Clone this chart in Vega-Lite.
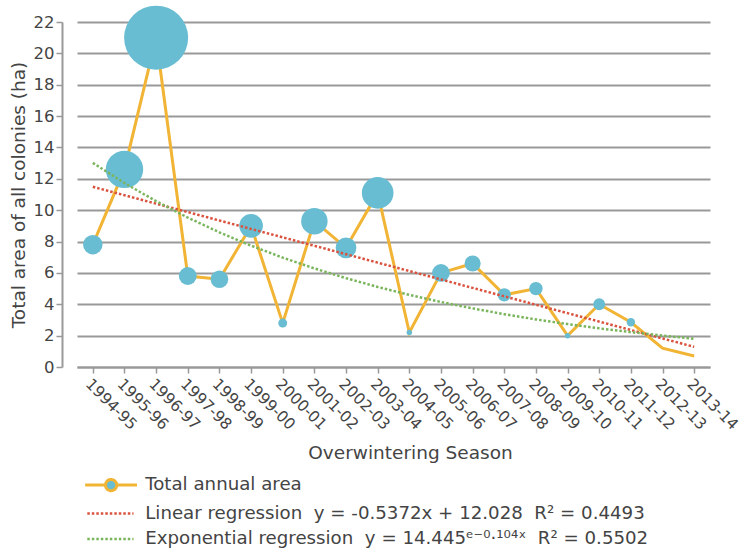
{
  "$schema": "https://vega.github.io/schema/vega-lite/v6.json",
  "width": 650,
  "height": 345,
  "autosize": {"type": "none"},
  "padding": {"left": 62, "top": 22, "right": 40, "bottom": 185},
  "background": "white",
  "config": {
    "font": "DejaVu Sans",
    "view": {"stroke": null},
    "axis": {"labelColor": "#444", "titleColor": "#444", "titleFontWeight": "normal", "domainColor": "#999", "tickColor": "#999", "domainWidth": 2, "tickWidth": 1.5}
  },
  "datasets": {
    "area": [
      {"season": "1994-95", "series": "Total annual area", "value": 7.8, "weight": 3.8},
      {"season": "1995-96", "series": "Total annual area", "value": 12.6, "weight": 14},
      {"season": "1996-97", "series": "Total annual area", "value": 21.0, "weight": 41},
      {"season": "1997-98", "series": "Total annual area", "value": 5.8, "weight": 3.2},
      {"season": "1998-99", "series": "Total annual area", "value": 5.6, "weight": 3.1},
      {"season": "1999-00", "series": "Total annual area", "value": 9.0, "weight": 5.6},
      {"season": "2000-01", "series": "Total annual area", "value": 2.8, "weight": 0.8},
      {"season": "2001-02", "series": "Total annual area", "value": 9.3, "weight": 7},
      {"season": "2002-03", "series": "Total annual area", "value": 7.6, "weight": 4.3},
      {"season": "2003-04", "series": "Total annual area", "value": 11.1, "weight": 10},
      {"season": "2004-05", "series": "Total annual area", "value": 2.2, "weight": 0.3},
      {"season": "2005-06", "series": "Total annual area", "value": 6.0, "weight": 3.15},
      {"season": "2006-07", "series": "Total annual area", "value": 6.6, "weight": 2.6},
      {"season": "2007-08", "series": "Total annual area", "value": 4.6, "weight": 1.8},
      {"season": "2008-09", "series": "Total annual area", "value": 5.0, "weight": 1.8},
      {"season": "2009-10", "series": "Total annual area", "value": 2.0, "weight": 0.3},
      {"season": "2010-11", "series": "Total annual area", "value": 4.0, "weight": 1.4},
      {"season": "2011-12", "series": "Total annual area", "value": 2.85, "weight": 0.7},
      {"season": "2012-13", "series": "Total annual area", "value": 1.2, "weight": 0},
      {"season": "2013-14", "series": "Total annual area", "value": 0.7, "weight": 0}
    ],
    "trend": [
      {"season": "1994-95", "series": "Linear regression", "value": 11.491},
      {"season": "1995-96", "series": "Linear regression", "value": 10.954},
      {"season": "1996-97", "series": "Linear regression", "value": 10.416},
      {"season": "1997-98", "series": "Linear regression", "value": 9.879},
      {"season": "1998-99", "series": "Linear regression", "value": 9.342},
      {"season": "1999-00", "series": "Linear regression", "value": 8.805},
      {"season": "2000-01", "series": "Linear regression", "value": 8.268},
      {"season": "2001-02", "series": "Linear regression", "value": 7.730},
      {"season": "2002-03", "series": "Linear regression", "value": 7.193},
      {"season": "2003-04", "series": "Linear regression", "value": 6.656},
      {"season": "2004-05", "series": "Linear regression", "value": 6.119},
      {"season": "2005-06", "series": "Linear regression", "value": 5.582},
      {"season": "2006-07", "series": "Linear regression", "value": 5.044},
      {"season": "2007-08", "series": "Linear regression", "value": 4.507},
      {"season": "2008-09", "series": "Linear regression", "value": 3.970},
      {"season": "2009-10", "series": "Linear regression", "value": 3.433},
      {"season": "2010-11", "series": "Linear regression", "value": 2.896},
      {"season": "2011-12", "series": "Linear regression", "value": 2.358},
      {"season": "2012-13", "series": "Linear regression", "value": 1.821},
      {"season": "2013-14", "series": "Linear regression", "value": 1.284},
      {"season": "1994-95", "series": "Exponential regression", "value": 13.018},
      {"season": "1995-96", "series": "Exponential regression", "value": 11.732},
      {"season": "1996-97", "series": "Exponential regression", "value": 10.573},
      {"season": "1997-98", "series": "Exponential regression", "value": 9.529},
      {"season": "1998-99", "series": "Exponential regression", "value": 8.588},
      {"season": "1999-00", "series": "Exponential regression", "value": 7.739},
      {"season": "2000-01", "series": "Exponential regression", "value": 6.975},
      {"season": "2001-02", "series": "Exponential regression", "value": 6.286},
      {"season": "2002-03", "series": "Exponential regression", "value": 5.665},
      {"season": "2003-04", "series": "Exponential regression", "value": 5.105},
      {"season": "2004-05", "series": "Exponential regression", "value": 4.601},
      {"season": "2005-06", "series": "Exponential regression", "value": 4.147},
      {"season": "2006-07", "series": "Exponential regression", "value": 3.737},
      {"season": "2007-08", "series": "Exponential regression", "value": 3.368},
      {"season": "2008-09", "series": "Exponential regression", "value": 3.035},
      {"season": "2009-10", "series": "Exponential regression", "value": 2.735},
      {"season": "2010-11", "series": "Exponential regression", "value": 2.465},
      {"season": "2011-12", "series": "Exponential regression", "value": 2.222},
      {"season": "2012-13", "series": "Exponential regression", "value": 2.002},
      {"season": "2013-14", "series": "Exponential regression", "value": 1.804}
    ]
  },
  "encoding": {
    "x": {
      "field": "season", "type": "ordinal",
      "scale": {"type": "point", "range": [15, 648]},
      "axis": {"title": "Overwintering Season", "titleFontSize": 18.5, "titleX": 348, "labelFontSize": 15.5, "labelAngle": 45, "tickSize": 6, "titlePadding": 11, "labelPadding": 3}
    },
    "y": {
      "field": "value", "type": "quantitative",
      "scale": {"domain": [0, 22], "nice": false},
      "axis": {"title": "Total area of all colonies (ha)", "titleFontSize": 18.5, "labelFontSize": 16.5, "values": [0, 2, 4, 6, 8, 10, 12, 14, 16, 18, 20, 22], "grid": true, "gridColor": "#999", "gridWidth": 2, "tickSize": 6, "labelPadding": 2, "titlePadding": 5}
    }
  },
  "layer": [
    {
      "data": {"name": "area"},
      "mark": {"type": "line", "strokeWidth": 3},
      "encoding": {
        "color": {
          "field": "series", "type": "nominal",
          "scale": {"domain": ["Total annual area", "Linear regression", "Exponential regression"], "range": ["#f1b434", "#d9533f", "#7ab55c"]},
          "legend": {
            "title": null,
            "orient": "none",
            "legendX": 40,
            "legendY": 454,
            "labelFontSize": 18.2,
            "labelColor": "#444",
            "labelLimit": 0,
            "labelOffset": 25,
            "symbolSize": 196,
            "rowPadding": 6.5,
            "labelExpr": "datum.label === 'Linear regression' ? 'Linear regression\u00a0\u00a0y = -0.5372x + 12.028\u00a0\u00a0R² = 0.4493' : datum.label === 'Exponential regression' ? 'Exponential regression\u00a0\u00a0y = 14.445ᵉ⁻⁰·¹⁰⁴ˣ\u00a0\u00a0R² = 0.5502' : datum.label",
            "encode": {
              "symbols": {
                "update": {
                  "shape": {"signal": "datum.value === 'Total annual area' ? 'M-3.7,0H-0.8M0.8,0H3.7M-0.8,0A0.8,0.8,0,1,0,0.8,0A0.8,0.8,0,1,0,-0.8,0Z' : 'M-3.4,0H3.2'"},
                  "fill": {"signal": "datum.value === 'Total annual area' ? '#69bdd2' : 'transparent'"},
                  "strokeDash": {"signal": "datum.value === 'Total annual area' ? [1,0] : [2.5,2]"},
                  "strokeWidth": {"signal": "datum.value === 'Total annual area' ? 3 : 2.5"}
                }
              }
            }
          }
        }
      }
    },
    {
      "data": {"name": "area"},
      "mark": {"type": "circle", "opacity": 1, "color": "#69bdd2", "clip": false},
      "encoding": {
        "size": {"field": "weight", "type": "quantitative", "scale": {"domain": [0, 41], "range": [0, 4100], "zero": true}, "legend": null}
      }
    },
    {
      "data": {"name": "trend"},
      "mark": {"type": "line", "strokeWidth": 2.5, "strokeDash": [2.5, 2]},
      "encoding": {
        "color": {"field": "series", "type": "nominal"},
        "detail": {"field": "series"}
      }
    }
  ]
}
